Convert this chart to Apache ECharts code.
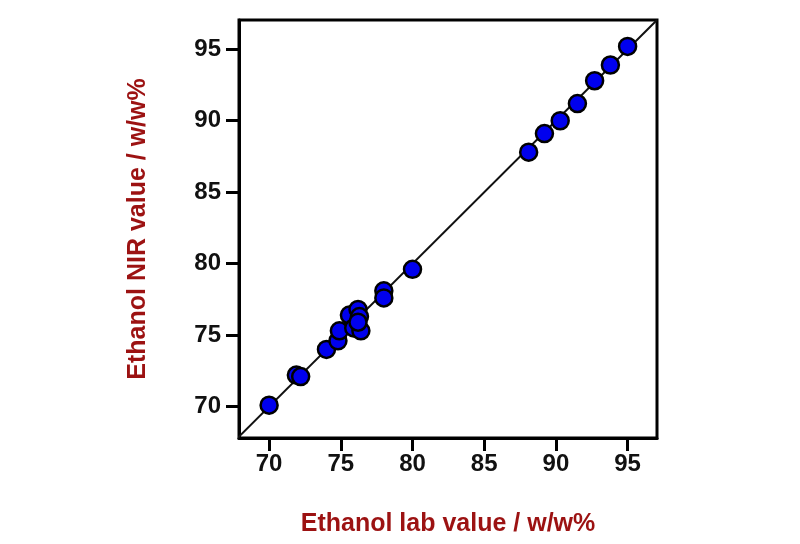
<!DOCTYPE html>
<html>
<head>
<meta charset="utf-8">
<script src="https://cdn.jsdelivr.net/npm/echarts@6/dist/echarts.min.js"></script>
<style>
  html, body { margin: 0; padding: 0; background: #fff; }
  #chart { width: 800px; height: 544px; }
</style>
</head>
<body>
<div id="chart"></div>
<script>
// lab value vs NIR predicted value
var labValues = [70.0, 71.9, 72.2, 74.0, 74.8, 74.9, 75.6, 76.2, 76.3, 75.9, 76.4, 76.2,
                 78.0, 78.0, 80.0, 88.1, 89.2, 90.3, 91.5, 92.7, 93.8, 95.0];
var nirValues = [70.1, 72.2, 72.1, 74.0, 74.6, 75.3, 76.4, 76.8, 76.3, 75.5, 75.3, 75.9,
                 78.1, 77.6, 79.6, 87.8, 89.1, 90.0, 91.2, 92.8, 93.9, 95.2];
var tickValues = [70, 75, 80, 85, 90, 95];
var xRange = [67.9, 97.05];
var yRange = [67.8, 97.05];
var identityLine = [67.8, 97.05];

var points = labValues.map(function (v, i) { return [v, nirValues[i]]; });

var chart = echarts.init(document.getElementById('chart'));
var axisText = { color: '#111', fontFamily: 'Liberation Sans, Arial', fontWeight: 'bold', fontSize: 24 };
var nameText = { color: '#9c1212', fontFamily: 'Liberation Sans, Arial', fontWeight: 'bold', fontSize: 25 };

var option = {
    animation: false,
    grid: {
        left: 239, right: 143, top: 20, bottom: 106,
        show: true,
        borderColor: '#000',
        borderWidth: 3
    },
    xAxis: {
        type: 'value',
        min: xRange[0], max: xRange[1],
        name: 'Ethanol lab value / w/w%',
        nameLocation: 'middle',
        nameGap: 74,
        nameTextStyle: nameText,
        axisLine: { show: true, lineStyle: { color: '#000', width: 3 } },
        axisTick: { show: true, length: 13, lineStyle: { color: '#000', width: 3 }, customValues: tickValues },
        axisLabel: Object.assign({ margin: 14, customValues: tickValues }, axisText),
        splitLine: { show: false }
    },
    yAxis: {
        type: 'value',
        min: yRange[0], max: yRange[1],
        name: 'Ethanol NIR value / w/w%',
        nameLocation: 'middle',
        nameGap: 88,
        nameTextStyle: nameText,
        axisLine: { show: true, lineStyle: { color: '#000', width: 3 } },
        axisTick: { show: true, length: 13, lineStyle: { color: '#000', width: 3 }, customValues: tickValues },
        axisLabel: Object.assign({ margin: 18, customValues: tickValues }, axisText),
        splitLine: { show: false }
    },
    series: [
        {
            type: 'line',
            data: [[identityLine[0], identityLine[0]], [identityLine[1], identityLine[1]]],
            showSymbol: false,
            lineStyle: { color: '#111', width: 2 },
            z: 1
        },
        {
            type: 'scatter',
            data: points,
            symbolSize: 17,
            itemStyle: { color: '#0000ee', borderColor: '#000', borderWidth: 2.5, opacity: 1 },
            z: 2
        }
    ]
};
chart.setOption(option);
</script>
</body>
</html>
